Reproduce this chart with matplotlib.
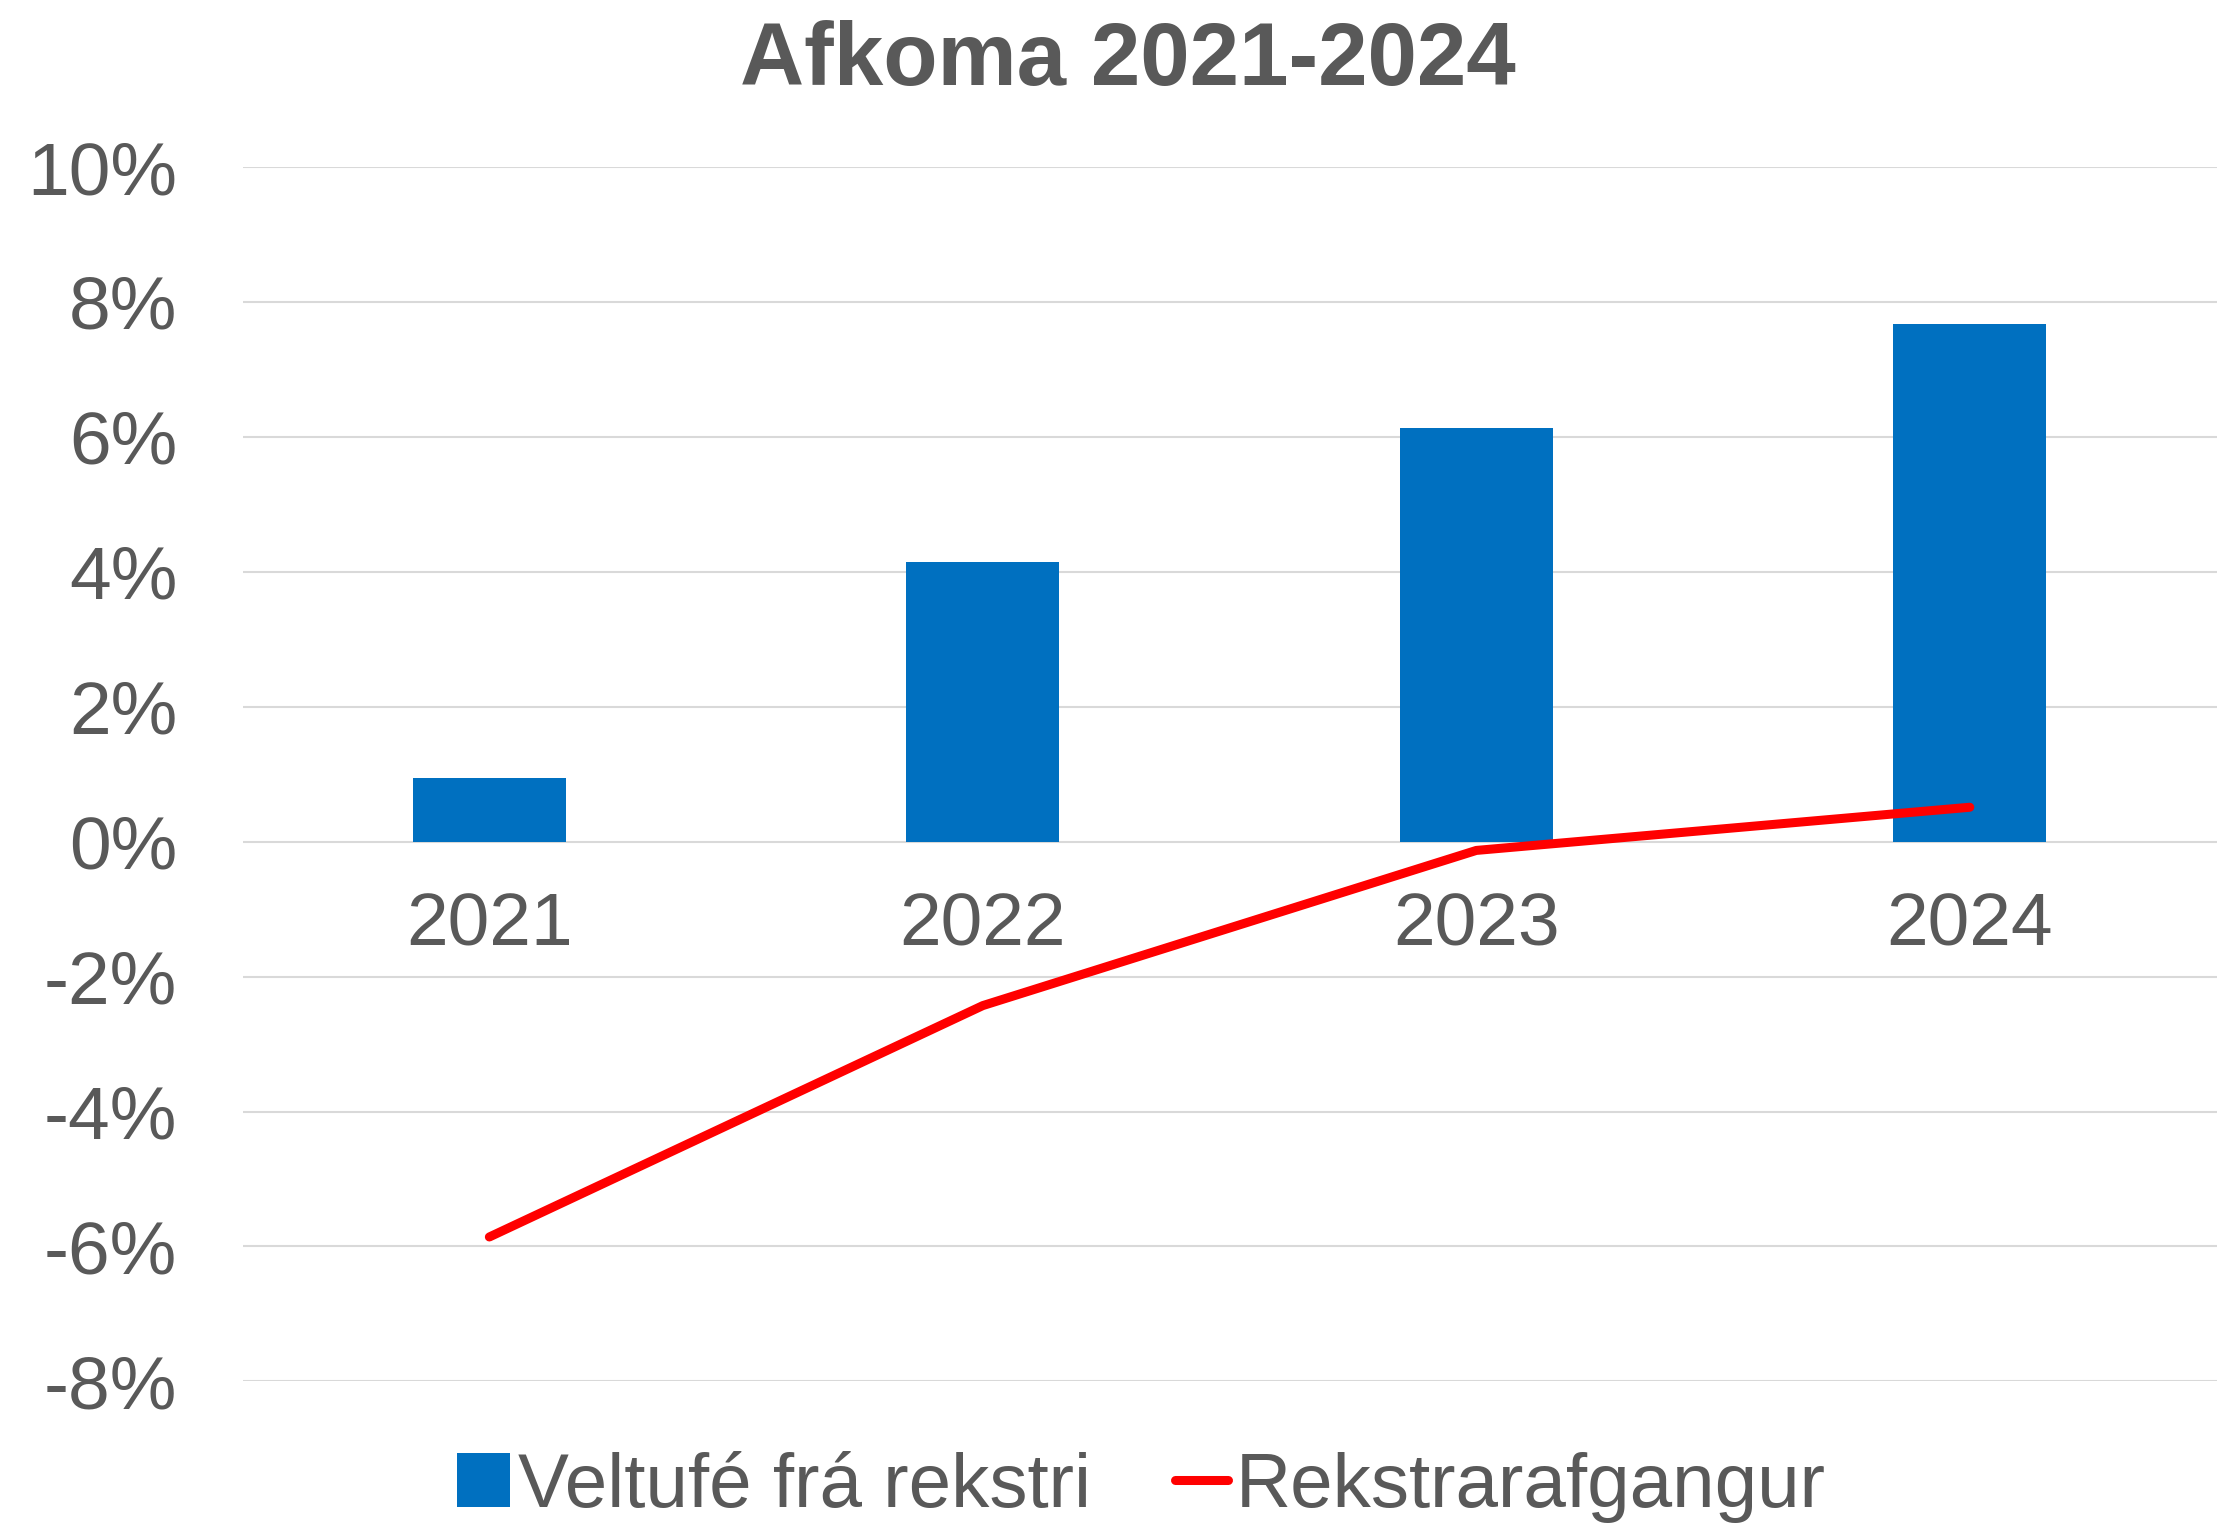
import matplotlib
matplotlib.use("Agg")
import matplotlib.pyplot as plt
from matplotlib.ticker import FuncFormatter

plt.rcParams["font.family"] = ["Liberation Sans", "DejaVu Sans"]

# ---- 数据 ----
years = ["2021", "2022", "2023", "2024"]
veltufe = [0.95, 4.14, 6.13, 7.67]          # Veltufé frá rekstri (%)
rekstrar = [-5.86, -2.43, -0.13, 0.51]      # Rekstrarafgangur (%)
y_ticks = [-8, -6, -4, -2, 0, 2, 4, 6, 8, 10]

TXT = "#595959"
BLUE = "#0070C0"
RED = "#FF0000"
GRID = "#D9D9D9"

fig = plt.figure(figsize=(22.38, 15.24), dpi=100)
ax = fig.add_axes([0.1084, 0.0936, 0.882, 0.7968])

x = list(range(len(years)))
bars = ax.bar(x, veltufe, width=0.31, color=BLUE, label="Veltufé frá rekstri", zorder=2)
line, = ax.plot(x, rekstrar, color=RED, lw=6.5, solid_capstyle="round",
                label="Rekstrarafgangur", zorder=3)

ax.set_xlim(-0.5, len(years) - 0.5)
ax.set_ylim(-8, 10)
ax.set_yticks(y_ticks)
ax.yaxis.set_major_formatter(FuncFormatter(lambda v, _: f"{v:.0f}%"))
ax.tick_params(axis="y", length=0, pad=47, labelsize=54, labelcolor=TXT)
ax.set_xticks([])
for s in ax.spines.values():
    s.set_visible(False)
ax.grid(axis="y", color=GRID, lw=1.5, zorder=0)
ax.set_axisbelow(True)

# 类别标签贴在 0 线下方(Excel 风格)
for xi, lab in zip(x, years):
    ax.annotate(lab, (xi, 0), xytext=(0, -75), textcoords="offset points",
                ha="center", va="baseline", fontsize=54, color=TXT)

fig.text(0.504, 0.959, "Afkoma 2021-2024", ha="center", va="center",
         fontsize=64, fontweight="bold", color=TXT)

fig.legend([bars, line], ["Veltufé frá rekstri", "Rekstrarafgangur"],
           loc="center", bbox_to_anchor=(0.51, 0.024), ncol=2, frameon=False,
           fontsize=55, labelcolor=TXT, handlelength=0.7, handleheight=0.7,
           handletextpad=0.1, columnspacing=1.1, borderaxespad=0)

fig.savefig("out.png", dpi=100)
